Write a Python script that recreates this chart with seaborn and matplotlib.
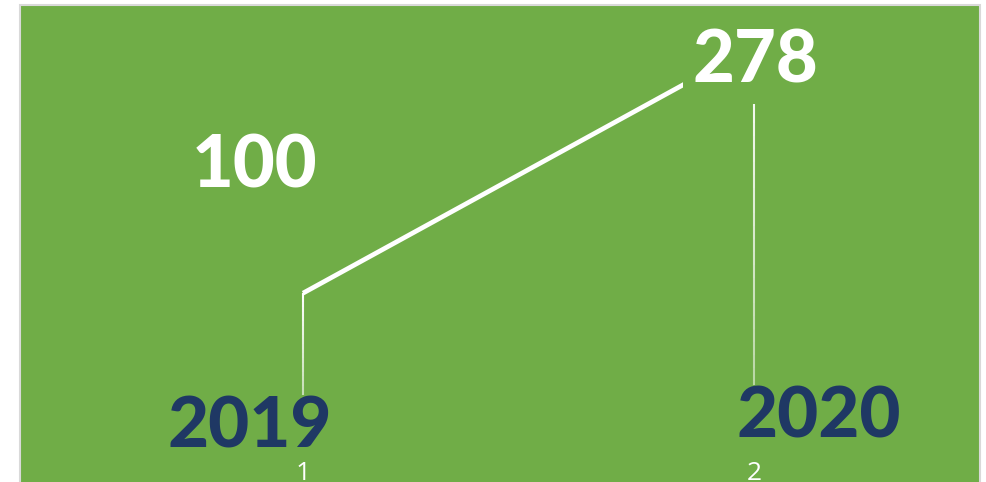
import matplotlib
matplotlib.use("Agg")
import matplotlib.pyplot as plt
from matplotlib.patches import Rectangle
import seaborn as sns
import pandas as pd
import numpy as np

# ---- data ----
positions = [1, 2]
values = [100, 278]
years = ["2019", "2020"]
tick_labels = ["1", "2"]

GREEN = "#70AD47"
NAVY = "#1F3864"
W, H = 986, 482

sns.set_theme(style="white")
plt.rcParams["font.family"] = ["Lato", "DejaVu Sans"]

fig = plt.figure(figsize=(W / 100, H / 100), dpi=100, facecolor="white")
bg = Rectangle((20 / W, -0.1), 960 / W, (H - 5) / H + 0.1,
               transform=fig.transFigure, facecolor=GREEN,
               edgecolor="#D9D9D9", linewidth=1.5, zorder=-10)
fig.patches.append(bg)

ax = fig.add_axes([20 / W, (H - 432) / H, 960 / W, (432 - 5) / H])
ax.set_zorder(5)
ax.set_facecolor("none")
ax.patch.set_alpha(0)
for s in ax.spines.values():
    s.set_visible(False)

df = pd.DataFrame({"x": positions, "y": values})
sns.lineplot(data=df, x="x", y="y", ax=ax, color="white", linewidth=3.4,
             solid_capstyle="butt", zorder=3)

# drop lines to the axis, fading towards the bottom
n_seg = 30
for x, v in zip(positions, values):
    edges = np.linspace(v, 0, n_seg + 1)
    for i in range(n_seg):
        a = 1.0 - 0.55 * (i / (n_seg - 1))
        ax.vlines(x, edges[i + 1], edges[i], colors="white", linewidth=1.5,
                  alpha=a, zorder=2)

ax.set_xlim(0.3725, 2.501)
ax.set_ylim(0, 307.5)
ax.set_xticks(positions)
ax.set_xticklabels(tick_labels, color="white", fontsize=19,
                   fontfamily=["Open Sans", "DejaVu Sans"], fontweight="normal")
ax.tick_params(axis="x", length=0, pad=21)
ax.set_yticks([])
ax.set_xlabel("")
ax.set_ylabel("")

# value labels
offsets_val = [(-48, 126), (1, -16)]
for x, y, (dx, dy) in zip(positions, values, offsets_val):
    ax.annotate(f"{y}", xy=(x, y), xytext=(dx, dy), textcoords="offset pixels",
                ha="center", va="center", color="white", fontsize=52,
                fontweight="black", zorder=5,
                bbox=dict(boxstyle="square,pad=0.12", facecolor=GREEN, edgecolor="none"))

# year labels
offsets_year = [(-53, 5), (65, 15)]
for x, lab, (dx, dy) in zip(positions, years, offsets_year):
    ax.annotate(lab, xy=(x, 0), xytext=(dx, dy), textcoords="offset pixels",
                ha="center", va="center", color=NAVY, fontsize=51,
                fontweight="black", zorder=5, annotation_clip=False,
                bbox=dict(boxstyle="square,pad=0.0", facecolor=GREEN, edgecolor="none"))

fig.savefig("out.png", dpi=100, facecolor="white")
